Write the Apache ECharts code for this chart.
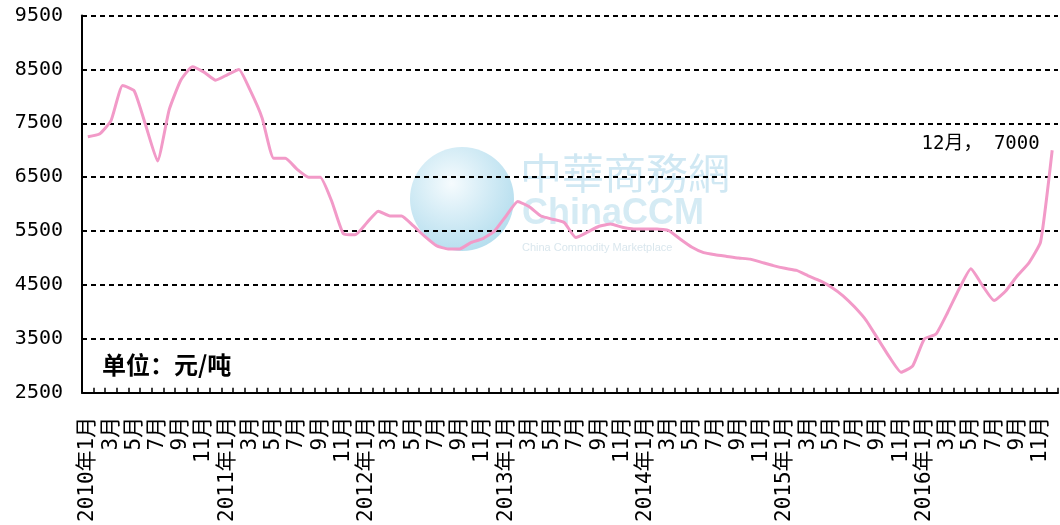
<!DOCTYPE html>
<html>
<head>
<meta charset="utf-8">
<script src="https://cdn.jsdelivr.net/npm/echarts@6/dist/echarts.min.js"></script>
<style>
html,body{margin:0;padding:0;background:#fff;}
#chart{width:1060px;height:525px;}
</style>
</head>
<body>
<div id="chart"></div>
<script>
// ---- data ----
const years = [2010, 2011, 2012, 2013, 2014, 2015, 2016];
const categories = [];
years.forEach(function (y) {
  for (let m = 1; m <= 12; m++) categories.push(m === 1 ? y + '年1月' : m + '月');
});
const values = [
  // 2010
  7250, 7300, 7550, 8200, 8100, 7450, 6800, 7750, 8300, 8550, 8450, 8300,
  // 2011
  8400, 8500, 8100, 7600, 6850, 6850, 6650, 6500, 6500, 6050, 5450, 5430,
  // 2012
  5650, 5870, 5780, 5780, 5600, 5400, 5230, 5170, 5170, 5290, 5360, 5500,
  // 2013
  5780, 6050, 5950, 5780, 5720, 5660, 5380, 5480, 5590, 5630, 5570, 5540,
  // 2014
  5540, 5540, 5510, 5350, 5200, 5100, 5060, 5030, 5000, 4980, 4920, 4860,
  // 2015
  4810, 4770, 4670, 4580, 4460, 4300, 4090, 3840, 3500, 3160, 2880, 3000,
  // 2016
  3500, 3590, 3990, 4430, 4800, 4490, 4210, 4390, 4670, 4910, 5300, 7000
];
const yMin = 2500, yMax = 9500, yStep = 500, yLabelStep = 1000;
const unitText = '单位：元/吨';

const lastIdx = values.length - 1;
const chart = echarts.init(document.getElementById('chart'), null, {renderer: 'canvas'});

const option = {
  backgroundColor: '#ffffff',
  animation: false,
  grid: {left: 82, right: 2, top: 15.5, bottom: 132},
  xAxis: {
    type: 'category',
    data: categories,
    boundaryGap: true,
    axisLine: {show: true, lineStyle: {color: '#000', width: 2}},
    axisTick: {show: true, inside: true, length: 5, interval: 0, lineStyle: {color: '#000', width: 1.5}},
    axisLabel: {
      interval: 1, rotate: 90, margin: 24, color: '#000',
      fontSize: 21, fontFamily: 'DejaVu Sans Mono, Noto Sans CJK SC'
    },
    splitLine: {show: false}
  },
  yAxis: {
    type: 'value',
    min: yMin, max: yMax, interval: yStep,
    axisLine: {show: true, lineStyle: {color: '#000', width: 2}},
    axisTick: {show: false},
    axisLabel: {
      margin: 19, color: '#000', fontSize: 20, fontFamily: 'DejaVu Sans Mono',
      formatter: function (v) { return ((v - yMin) % yLabelStep === 0) ? String(v) : ''; }
    },
    splitLine: {
      show: true,
      lineStyle: {color: ['#000', 'rgba(0,0,0,0)'], width: 2, type: [5, 4]}
    }
  },
  graphic: [
    {
      type: 'circle', z: 0, silent: true,
      shape: {cx: 462, cy: 199, r: 52},
      style: {
        fill: new echarts.graphic.RadialGradient(0.4, 0.35, 0.75, [
          {offset: 0, color: 'rgba(240,249,253,0.6)'},
          {offset: 1, color: 'rgba(110,190,222,0.55)'}
        ])
      }
    },
    {
      type: 'text', z: 0, silent: true, left: 520, top: 152,
      style: {text: '中華商務網', fill: 'rgba(150,205,228,0.45)', fontSize: 42, fontFamily: 'Noto Sans CJK TC'}
    },
    {
      type: 'text', z: 0, silent: true, left: 522, top: 196,
      style: {text: 'ChinaCCM', fill: 'rgba(150,205,228,0.4)', fontSize: 36, fontWeight: 'bold', fontFamily: 'Liberation Sans'}
    },
    {
      type: 'text', z: 0, silent: true, left: 522, top: 242,
      style: {text: 'China Commodity Marketplace', fill: 'rgba(170,200,215,0.45)', fontSize: 11, fontFamily: 'Liberation Sans'}
    },
    {
      type: 'text', z: 10, left: 102, top: 353,
      style: {text: unitText, fill: '#000', fontSize: 24, fontWeight: 'bold', fontFamily: 'Noto Sans CJK SC'}
    }
  ],
  series: [{
    type: 'line',
    data: values,
    smooth: 0.15,
    symbol: 'none',
    lineStyle: {color: '#f29ac8', width: 3},
    z: 5,
    markPoint: {
      symbol: 'circle', symbolSize: 1,
      itemStyle: {color: 'rgba(0,0,0,0)'},
      data: [{
        coord: [categories[lastIdx], values[lastIdx]],
        label: {
          show: true, position: 'left', distance: 12, offset: [0, -6],
          color: '#000', fontSize: 19, fontFamily: 'DejaVu Sans Mono, Noto Sans CJK SC',
          formatter: categories[lastIdx] + '， ' + values[lastIdx]
        }
      }]
    }
  }]
};
chart.setOption(option);
</script>
</body>
</html>
